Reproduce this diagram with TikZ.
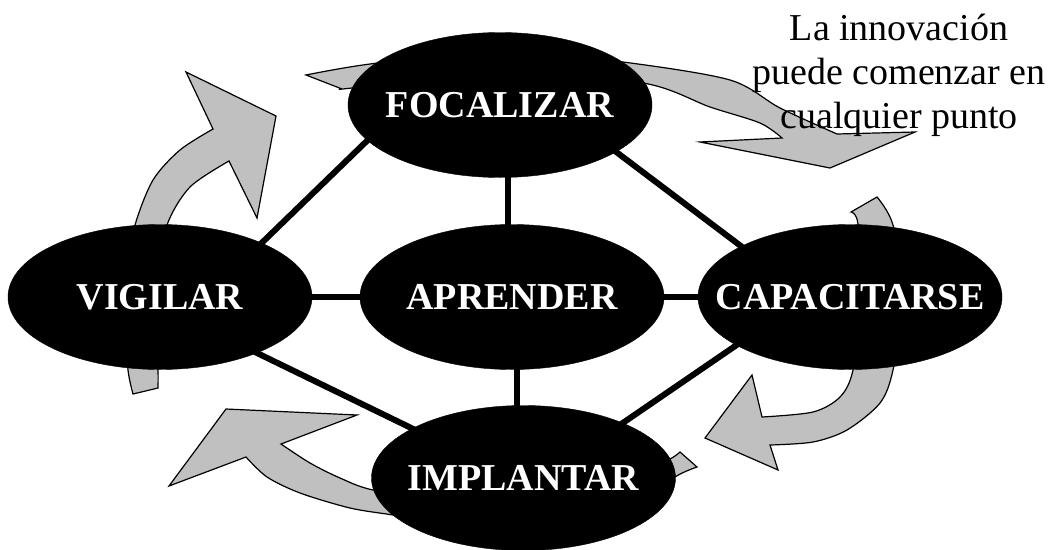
\documentclass[tikz,border=0pt]{standalone}
\usepackage{fontspec}
\setmainfont{Liberation Serif}
\usetikzlibrary{shapes.geometric,backgrounds}
\definecolor{arrowgray}{HTML}{C0C0C0}
\begin{document}
\begin{tikzpicture}[x=1pt,y=-1pt,
  oval/.style={ellipse, fill=black, draw=black, minimum width=304pt, minimum height=145pt, inner sep=0pt},
  lab/.style={text=white, font=\fontsize{38}{44}\selectfont\bfseries, inner sep=0pt},
  link/.style={line width=6pt, shorten <=-3pt, shorten >=-3pt},
  bent/.style={fill=arrowgray, draw=black, line width=1.2pt, line join=miter},
  note/.style={font=\fontsize{38}{44}\selectfont, inner sep=0pt, anchor=base}]
\useasboundingbox (0,0) rectangle (1051,549);

% the five stages
\node[oval, label={[lab]center:FOCALIZAR}]   (F) at (500,105)   {};
\node[oval, label={[lab]center:VIGILAR}]     (V) at (160,297)   {};
\node[oval, label={[lab]center:APRENDER}]    (A) at (512,297)   {};
\node[oval, label={[lab]center:CAPACITARSE}] (C) at (850,297)   {};
\node[oval, label={[lab]center:IMPLANTAR}]   (I) at (523.5,478) {};

\begin{pgfonlayer}{background}
  % links between the stages
  \draw[link] (F.195) -- (V.28);
  \draw[link] (F.338) -- (C.155);
  \draw[link] ([xshift=8pt]F.south) -- ([xshift=-4pt]A.north);
  \draw[link] (V.east) -- (A.west);
  \draw[link] (A.east) -- (C.west);
  \draw[link] ([xshift=5pt]A.south) -- ([xshift=-6.5pt]I.north);
  \draw[link] (V.330) -- (I.156);
  \draw[link] (C.203) -- (I.29);

  % curved arrows of the cycle
  % from VIGILAR up towards FOCALIZAR
  \filldraw[bent]
    plot[smooth] coordinates {(133,394) (128,370) (125,320) (127,270) (135,225) (153,180) (180,150) (213,129)}
    -- (186,72) -- (276,116) -- (257,218) -- (229,161)
    -- plot[smooth] coordinates {(229,161) (190,187) (167,225) (157,280) (156,330) (158,370) (158,388)}
    -- cycle;
  % from FOCALIZAR over to CAPACITARSE
  \filldraw[bent]
    plot[smooth] coordinates {(306,75) (370,64) (500,50) (623,62) (730,80) (780,108) (837,134)}
    -- (915,132) -- (830,168) -- (700,142) -- (782,138)
    -- plot[smooth] coordinates {(782,138) (760,123) (710,107) (643,83) (500,72) (352,88) (342,89)}
    -- cycle;
  % from CAPACITARSE down to IMPLANTAR
  \filldraw[bent]
    plot[smooth] coordinates {(877,197) (893,225) (904,297) (893,370) (880,403) (847,430) (813,442) (770,445)}
    -- (778,470) -- (705,438) -- (752,375) -- (762,417)
    -- plot[smooth] coordinates {(762,417) (813,412) (840,397) (853,370) (862,297) (858,224) (851,212)}
    -- cycle;
  % from IMPLANTAR up towards VIGILAR
  \filldraw[bent]
    plot[smooth] coordinates {(697,467) (675,477) (640,505) (580,522) (470,527) (393,515) (350,508) (300,493) (267,477) (246,457)}
    -- (169,486) -- (226,409) -- (357,415) -- (281,444)
    -- plot[smooth] coordinates {(281,444) (310,463) (340,478) (373,490) (450,502) (560,495) (640,472) (670,459) (680,452)}
    -- cycle;
\end{pgfonlayer}

% note
\node[note] (n1) at (899,40)  {La innovación};
\node[note] (n2) at (899,84)  {puede comenzar en};
\node[note] (n3) at (899,128) {cualquier punto};
\end{tikzpicture}
\end{document}
